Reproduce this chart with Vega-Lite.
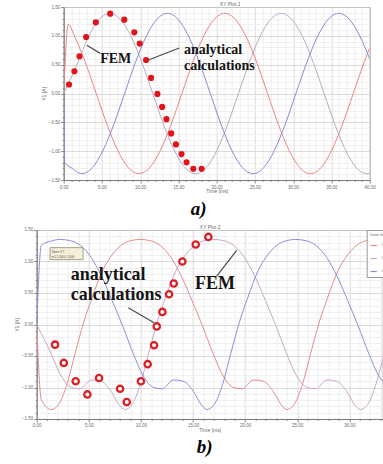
{
"$schema": "https://vega.github.io/schema/vega-lite/v6.json",
"background": "white",
"padding": {"left": 13.7, "top": 0, "right": 0, "bottom": 0},
"config": {
  "font": "Liberation Sans",
  "concat": {"spacing": 0},
  "view": {"stroke": "#8c8c8c", "strokeWidth": 1},
  "axis": {"labelFontSize": 4.5, "labelColor": "#6a6a6a", "titleFontSize": 5, "titleFontWeight": "normal", "titleColor": "#6a6a6a", "domainColor": "#7a7a7a", "tickColor": "#8a8a8a", "labelOverlap": false, "labelFlush": false, "labelBound": false, "labelPadding": 1, "gridWidth": 0.8}
},
"datasets": {
  "topLines": [
    {"s":"A","t":0,"v":0},{"s":"A","t":0.6,"v":1.2},{"s":"A","t":1.45,"v":0.983},{"s":"A","t":2.85,"v":0.532},{"s":"A","t":4.25,"v":0},{"s":"A","t":5.65,"v":-0.532},{"s":"A","t":7.05,"v":-0.983},{"s":"A","t":8.45,"v":-1.284},{"s":"A","t":9.85,"v":-1.39},{"s":"A","t":11.25,"v":-1.284},{"s":"A","t":12.65,"v":-0.983},{"s":"A","t":14.05,"v":-0.532},{"s":"A","t":15.45,"v":0},{"s":"A","t":16.85,"v":0.532},{"s":"A","t":18.25,"v":0.983},{"s":"A","t":19.65,"v":1.284},{"s":"A","t":21.05,"v":1.39},{"s":"A","t":22.45,"v":1.284},{"s":"A","t":23.85,"v":0.983},{"s":"A","t":25.25,"v":0.532},{"s":"A","t":26.65,"v":0},{"s":"A","t":28.05,"v":-0.532},{"s":"A","t":29.45,"v":-0.983},{"s":"A","t":30.85,"v":-1.284},{"s":"A","t":32.25,"v":-1.39},{"s":"A","t":33.65,"v":-1.284},{"s":"A","t":35.05,"v":-0.983},{"s":"A","t":36.45,"v":-0.532},{"s":"A","t":37.85,"v":0},{"s":"A","t":39.25,"v":0.532},{"s":"A","t":40,"v":0.79},
    {"s":"B","t":0,"v":0},{"s":"B","t":1.84,"v":0.532},{"s":"B","t":3.24,"v":0.983},{"s":"B","t":4.64,"v":1.284},{"s":"B","t":6.04,"v":1.39},{"s":"B","t":7.44,"v":1.284},{"s":"B","t":8.84,"v":0.983},{"s":"B","t":10.24,"v":0.532},{"s":"B","t":11.64,"v":0},{"s":"B","t":13.04,"v":-0.532},{"s":"B","t":14.44,"v":-0.983},{"s":"B","t":15.84,"v":-1.284},{"s":"B","t":17.24,"v":-1.39},{"s":"B","t":18.64,"v":-1.284},{"s":"B","t":20.04,"v":-0.983},{"s":"B","t":21.44,"v":-0.532},{"s":"B","t":22.84,"v":0},{"s":"B","t":24.24,"v":0.532},{"s":"B","t":25.64,"v":0.983},{"s":"B","t":27.04,"v":1.284},{"s":"B","t":28.44,"v":1.39},{"s":"B","t":29.84,"v":1.284},{"s":"B","t":31.24,"v":0.983},{"s":"B","t":32.64,"v":0.532},{"s":"B","t":34.04,"v":0},{"s":"B","t":35.44,"v":-0.532},{"s":"B","t":36.84,"v":-0.983},{"s":"B","t":38.24,"v":-1.284},{"s":"B","t":39.64,"v":-1.39},{"s":"B","t":40,"v":-1.385},
    {"s":"C","t":0,"v":0},{"s":"C","t":0.15,"v":-1.2},{"s":"C","t":0.96,"v":-1.284},{"s":"C","t":2.36,"v":-1.39},{"s":"C","t":3.76,"v":-1.284},{"s":"C","t":5.16,"v":-0.983},{"s":"C","t":6.56,"v":-0.532},{"s":"C","t":7.96,"v":0},{"s":"C","t":9.36,"v":0.532},{"s":"C","t":10.76,"v":0.983},{"s":"C","t":12.16,"v":1.284},{"s":"C","t":13.56,"v":1.39},{"s":"C","t":14.96,"v":1.284},{"s":"C","t":16.36,"v":0.983},{"s":"C","t":17.76,"v":0.532},{"s":"C","t":19.16,"v":0},{"s":"C","t":20.56,"v":-0.532},{"s":"C","t":21.96,"v":-0.983},{"s":"C","t":23.36,"v":-1.284},{"s":"C","t":24.76,"v":-1.39},{"s":"C","t":26.16,"v":-1.284},{"s":"C","t":27.56,"v":-0.983},{"s":"C","t":28.96,"v":-0.532},{"s":"C","t":30.36,"v":0},{"s":"C","t":31.76,"v":0.532},{"s":"C","t":33.16,"v":0.983},{"s":"C","t":34.56,"v":1.284},{"s":"C","t":35.96,"v":1.39},{"s":"C","t":37.36,"v":1.284},{"s":"C","t":38.76,"v":0.983},{"s":"C","t":40,"v":0.6}
  ],
  "topDots": [
    {"t":0.70,"v":0.156},{"t":1.40,"v":0.386},{"t":2.06,"v":0.646},{"t":2.93,"v":0.98},{"t":4.20,"v":1.234},{"t":6.08,"v":1.385},{"t":7.92,"v":1.281},{"t":9.23,"v":1.061},{"t":9.94,"v":0.865},{"t":10.77,"v":0.581},{"t":11.42,"v":0.27},{"t":12.25,"v":-0.007},{"t":12.87,"v":-0.232},{"t":13.43,"v":-0.445},{"t":14.05,"v":-0.692},{"t":14.67,"v":-0.883},{"t":15.40,"v":-1.05},{"t":16.06,"v":-1.194},{"t":16.94,"v":-1.305},{"t":18.03,"v":-1.305}
  ],
  "topPointers": [
    {"t":3.02,"v":0.836,"t2":4.73,"v2":0.70},
    {"t":10.99,"v":0.576,"t2":15.11,"v2":0.789}
  ],
  "topNotes": [
    {"t":4.77,"v":0.524,"label":"FEM"},
    {"t":15.72,"v":0.692,"label":"analytical"},
    {"t":15.72,"v":0.415,"label":"calculations"}
  ],
  "botLines": [
    {"s":"Current(PhaseA)","t":0,"v":0},{"s":"Current(PhaseA)","t":0.45,"v":-1.2},{"s":"Current(PhaseA)","t":1.4,"v":-1.35},{"s":"Current(PhaseA)","t":2.1,"v":-1.27},{"s":"Current(PhaseA)","t":2.9,"v":-0.95},{"s":"Current(PhaseA)","t":3.7,"v":-0.45},{"s":"Current(PhaseA)","t":4.5,"v":0.03},{"s":"Current(PhaseA)","t":5.3,"v":0.42},{"s":"Current(PhaseA)","t":6.3,"v":0.85},{"s":"Current(PhaseA)","t":7.3,"v":1.12},{"s":"Current(PhaseA)","t":8.3,"v":1.28},{"s":"Current(PhaseA)","t":9.3,"v":1.34},{"s":"Current(PhaseA)","t":9.9,"v":1.35},{"s":"Current(PhaseA)","t":10.9,"v":1.33},{"s":"Current(PhaseA)","t":11.9,"v":1.25},{"s":"Current(PhaseA)","t":12.9,"v":1.06},{"s":"Current(PhaseA)","t":13.9,"v":0.76},{"s":"Current(PhaseA)","t":14.9,"v":0.38},{"s":"Current(PhaseA)","t":15.9,"v":-0.02},{"s":"Current(PhaseA)","t":16.9,"v":-0.45},{"s":"Current(PhaseA)","t":17.9,"v":-0.82},{"s":"Current(PhaseA)","t":18.9,"v":-1.0},{"s":"Current(PhaseA)","t":19.7,"v":-1.02},{"s":"Current(PhaseA)","t":20.8,"v":-0.88},{"s":"Current(PhaseA)","t":21.7,"v":-0.9},{"s":"Current(PhaseA)","t":22.7,"v":-1.06},{"s":"Current(PhaseA)","t":23.4,"v":-1.26},{"s":"Current(PhaseA)","t":24.0,"v":-1.35},{"s":"Current(PhaseA)","t":24.7,"v":-1.27},{"s":"Current(PhaseA)","t":25.5,"v":-0.95},{"s":"Current(PhaseA)","t":26.3,"v":-0.45},{"s":"Current(PhaseA)","t":27.1,"v":0.03},{"s":"Current(PhaseA)","t":27.9,"v":0.42},{"s":"Current(PhaseA)","t":28.9,"v":0.85},{"s":"Current(PhaseA)","t":29.9,"v":1.12},{"s":"Current(PhaseA)","t":30.9,"v":1.28},{"s":"Current(PhaseA)","t":31.9,"v":1.34},{"s":"Current(PhaseA)","t":32.5,"v":1.35},{"s":"Current(PhaseA)","t":33.5,"v":1.33},
    {"s":"Current(PhaseB)","t":0,"v":0},{"s":"Current(PhaseB)","t":1.35,"v":-0.45},{"s":"Current(PhaseB)","t":2.35,"v":-0.82},{"s":"Current(PhaseB)","t":3.35,"v":-1.0},{"s":"Current(PhaseB)","t":4.15,"v":-1.02},{"s":"Current(PhaseB)","t":5.25,"v":-0.88},{"s":"Current(PhaseB)","t":6.15,"v":-0.9},{"s":"Current(PhaseB)","t":7.15,"v":-1.06},{"s":"Current(PhaseB)","t":7.85,"v":-1.26},{"s":"Current(PhaseB)","t":8.45,"v":-1.35},{"s":"Current(PhaseB)","t":9.15,"v":-1.27},{"s":"Current(PhaseB)","t":9.95,"v":-0.95},{"s":"Current(PhaseB)","t":10.75,"v":-0.45},{"s":"Current(PhaseB)","t":11.55,"v":0.03},{"s":"Current(PhaseB)","t":12.35,"v":0.42},{"s":"Current(PhaseB)","t":13.35,"v":0.85},{"s":"Current(PhaseB)","t":14.35,"v":1.12},{"s":"Current(PhaseB)","t":15.35,"v":1.28},{"s":"Current(PhaseB)","t":16.35,"v":1.34},{"s":"Current(PhaseB)","t":16.95,"v":1.35},{"s":"Current(PhaseB)","t":17.95,"v":1.33},{"s":"Current(PhaseB)","t":18.95,"v":1.25},{"s":"Current(PhaseB)","t":19.95,"v":1.06},{"s":"Current(PhaseB)","t":20.95,"v":0.76},{"s":"Current(PhaseB)","t":21.95,"v":0.38},{"s":"Current(PhaseB)","t":22.95,"v":-0.02},{"s":"Current(PhaseB)","t":23.95,"v":-0.45},{"s":"Current(PhaseB)","t":24.95,"v":-0.82},{"s":"Current(PhaseB)","t":25.95,"v":-1.0},{"s":"Current(PhaseB)","t":26.75,"v":-1.02},{"s":"Current(PhaseB)","t":27.85,"v":-0.88},{"s":"Current(PhaseB)","t":28.75,"v":-0.9},{"s":"Current(PhaseB)","t":29.75,"v":-1.06},{"s":"Current(PhaseB)","t":30.45,"v":-1.26},{"s":"Current(PhaseB)","t":31.05,"v":-1.35},{"s":"Current(PhaseB)","t":31.75,"v":-1.27},{"s":"Current(PhaseB)","t":32.55,"v":-0.95},{"s":"Current(PhaseB)","t":33.35,"v":-0.45},
    {"s":"Current(PhaseC)","t":0,"v":0},{"s":"Current(PhaseC)","t":0.45,"v":1.26},{"s":"Current(PhaseC)","t":1.3,"v":1.32},{"s":"Current(PhaseC)","t":2.24,"v":1.35},{"s":"Current(PhaseC)","t":3.24,"v":1.33},{"s":"Current(PhaseC)","t":4.24,"v":1.25},{"s":"Current(PhaseC)","t":5.24,"v":1.06},{"s":"Current(PhaseC)","t":6.24,"v":0.76},{"s":"Current(PhaseC)","t":7.24,"v":0.38},{"s":"Current(PhaseC)","t":8.24,"v":-0.02},{"s":"Current(PhaseC)","t":9.24,"v":-0.45},{"s":"Current(PhaseC)","t":10.24,"v":-0.82},{"s":"Current(PhaseC)","t":11.24,"v":-1.0},{"s":"Current(PhaseC)","t":12.04,"v":-1.02},{"s":"Current(PhaseC)","t":13.14,"v":-0.88},{"s":"Current(PhaseC)","t":14.04,"v":-0.9},{"s":"Current(PhaseC)","t":15.04,"v":-1.06},{"s":"Current(PhaseC)","t":15.74,"v":-1.26},{"s":"Current(PhaseC)","t":16.34,"v":-1.35},{"s":"Current(PhaseC)","t":17.04,"v":-1.27},{"s":"Current(PhaseC)","t":17.84,"v":-0.95},{"s":"Current(PhaseC)","t":18.64,"v":-0.45},{"s":"Current(PhaseC)","t":19.44,"v":0.03},{"s":"Current(PhaseC)","t":20.24,"v":0.42},{"s":"Current(PhaseC)","t":21.24,"v":0.85},{"s":"Current(PhaseC)","t":22.24,"v":1.12},{"s":"Current(PhaseC)","t":23.24,"v":1.28},{"s":"Current(PhaseC)","t":24.24,"v":1.34},{"s":"Current(PhaseC)","t":24.84,"v":1.35},{"s":"Current(PhaseC)","t":25.84,"v":1.33},{"s":"Current(PhaseC)","t":26.84,"v":1.25},{"s":"Current(PhaseC)","t":27.84,"v":1.06},{"s":"Current(PhaseC)","t":28.84,"v":0.76},{"s":"Current(PhaseC)","t":29.84,"v":0.38},{"s":"Current(PhaseC)","t":30.84,"v":-0.02},{"s":"Current(PhaseC)","t":31.84,"v":-0.45},{"s":"Current(PhaseC)","t":32.84,"v":-0.82},{"s":"Current(PhaseC)","t":33.84,"v":-1.0}
  ],
  "botDots": [
    {"t":1.76,"v":-0.32},{"t":2.6,"v":-0.61},{"t":3.74,"v":-0.9},{"t":4.86,"v":-1.11},{"t":5.98,"v":-0.85},{"t":8.0,"v":-1.02},{"t":8.64,"v":-1.23},{"t":10.0,"v":-0.9},{"t":10.65,"v":-0.63},{"t":11.26,"v":-0.33},{"t":11.52,"v":-0.03},{"t":12.06,"v":0.2},{"t":12.7,"v":0.48},{"t":13.15,"v":0.65},{"t":13.98,"v":1.0},{"t":15.26,"v":1.27},{"t":16.47,"v":1.39}
  ],
  "botPointers": [
    {"t":8.79,"v":0.265,"t2":11.26,"v2":0.027},
    {"t":17.27,"v":0.767,"t2":19.19,"v2":1.175}
  ],
  "botNotes": [
    {"t":3.26,"v":0.714,"label":"analytical"},
    {"t":3.26,"v":0.386,"label":"calculations"},
    {"t":15.19,"v":0.556,"label":"FEM"}
  ],
  "marker": [{"t":1.28,"t2":4.45,"v":1.22,"v2":1.03}],
  "markerText": [
    {"t":1.45,"v":1.15,"label":"Name     X        Y"},
    {"t":1.45,"v":1.07,"label":"m1   2.2400   1.3500"}
  ]
},
"resolve": {"scale": {"color": "independent"}},
"spacing": 4,
"vconcat": [
  {
    "spacing": 0,
    "hconcat": [
      {"width": 2, "height": 1, "data": {"values": [{"k": 1}]}, "mark": {"type": "point", "opacity": 0}, "view": {"stroke": null}},
      {
        "width": 306,
        "height": 173,
        "title": {"text": "a)", "orient": "bottom", "frame": "group", "anchor": "middle", "dx": -18, "offset": 6, "font": "Liberation Serif", "fontSize": 19, "fontWeight": "bold", "fontStyle": "italic", "color": "#000000"},
        "resolve": {"axis": {"x": "independent", "y": "independent"}},
        "layer": [
          {
            "data": {"name": "topLines"},
            "mark": {"type": "line", "interpolate": "monotone", "strokeWidth": 1, "clip": true},
            "encoding": {
              "x": {"field": "t", "type": "quantitative", "scale": {"domain": [0, 40], "nice": false, "zero": false},
                "axis": {"values": [0,1,2,3,4,5,6,7,8,9,10,11,12,13,14,15,16,17,18,19,20,21,22,23,24,25,26,27,28,29,30,31,32,33,34,35,36,37,38,39,40],
                  "labelExpr": "datum.value % 5 === 0 ? format(datum.value, '.2f') : ''",
                  "title": "Time [ms]", "titlePadding": 0, "grid": true,
                  "tickSize": {"condition": {"test": "datum.value % 5 === 0", "value": 3}, "value": 1.5},
                  "gridColor": {"condition": {"test": "datum.value % 5 === 0", "value": "#d2d2d2"}, "value": "#ececec"}}},
              "y": {"field": "v", "type": "quantitative", "scale": {"domain": [-1.5, 1.5], "nice": false},
                "axis": {"values": [-1.5,-1.4,-1.3,-1.2,-1.1,-1.0,-0.9,-0.8,-0.7,-0.6,-0.5,-0.4,-0.3,-0.2,-0.1,0,0.1,0.2,0.3,0.4,0.5,0.6,0.7,0.8,0.9,1.0,1.1,1.2,1.3,1.4,1.5],
                  "labelExpr": "abs(round(datum.value*10)) % 5 === 0 ? format(datum.value, '.2f') : ''",
                  "labelOverlap": false,
                  "title": "Y1 [A]", "titlePadding": 2, "grid": true,
                  "tickSize": {"condition": {"test": "abs(round(datum.value*10)) % 5 === 0", "value": 3}, "value": 1.5},
                  "gridColor": {"condition": {"test": "abs(round(datum.value*10)) % 5 === 0", "value": "#d2d2d2"}, "value": "#ececec"}}},
              "color": {"field": "s", "type": "nominal", "scale": {"domain": ["A", "B", "C"], "range": ["#ec8383", "#b8a9c6", "#8789d8"]}, "legend": null}
            }
          },
          {
            "data": {"name": "topDots"},
            "mark": {"type": "circle", "size": 38, "color": "#e3121b", "opacity": 1},
            "encoding": {
              "x": {"field": "t", "type": "quantitative", "axis": {"orient": "top", "title": "XY Plot 1", "labels": false, "ticks": false, "domain": false, "grid": false, "titlePadding": 1, "titleX": 166}},
              "y": {"field": "v", "type": "quantitative", "axis": null}
            }
          },
          {
            "data": {"name": "topPointers"},
            "mark": {"type": "rule", "color": "#4a4a4a", "strokeWidth": 1.2},
            "encoding": {
              "x": {"field": "t", "type": "quantitative", "axis": null},
              "y": {"field": "v", "type": "quantitative", "axis": null},
              "x2": {"field": "t2"},
              "y2": {"field": "v2"}
            }
          },
          {
            "data": {"name": "topNotes"},
            "mark": {"type": "text", "align": "left", "baseline": "alphabetic", "font": "Liberation Serif", "fontSize": 14, "fontWeight": "bold", "color": "#141414"},
            "encoding": {
              "x": {"field": "t", "type": "quantitative", "axis": null},
              "y": {"field": "v", "type": "quantitative", "axis": null},
              "text": {"field": "label"}
            }
          }
        ]
      }
    ]
  },
  {
    "width": 346,
    "height": 189,
    "title": {"text": "b)", "orient": "bottom", "frame": "group", "anchor": "middle", "dx": -5, "offset": 6, "font": "Liberation Serif", "fontSize": 19, "fontWeight": "bold", "fontStyle": "italic", "color": "#000000"},
    "resolve": {"axis": {"x": "independent", "y": "independent"}},
    "layer": [
      {
        "data": {"name": "botLines"},
        "mark": {"type": "line", "interpolate": "monotone", "strokeWidth": 1, "clip": true},
        "encoding": {
          "x": {"field": "t", "type": "quantitative", "scale": {"domain": [0, 33.2], "nice": false, "zero": false},
            "axis": {"values": [0,1,2,3,4,5,6,7,8,9,10,11,12,13,14,15,16,17,18,19,20,21,22,23,24,25,26,27,28,29,30,31,32,33],
              "labelExpr": "datum.value % 5 === 0 ? format(datum.value, '.2f') : ''",
              "title": "Time [ms]", "titlePadding": 0, "grid": true,
              "tickSize": {"condition": {"test": "datum.value % 5 === 0", "value": 3}, "value": 1.5},
              "gridColor": {"condition": {"test": "datum.value % 5 === 0", "value": "#d2d2d2"}, "value": "#ececec"}}},
          "y": {"field": "v", "type": "quantitative", "scale": {"domain": [-1.5, 1.5], "nice": false},
            "axis": {"values": [-1.5,-1.4,-1.3,-1.2,-1.1,-1.0,-0.9,-0.8,-0.7,-0.6,-0.5,-0.4,-0.3,-0.2,-0.1,0,0.1,0.2,0.3,0.4,0.5,0.6,0.7,0.8,0.9,1.0,1.1,1.2,1.3,1.4,1.5],
              "labelExpr": "abs(round(datum.value*10)) % 5 === 0 ? format(datum.value, '.2f') : ''",
              "labelOverlap": false,
              "title": "Y1 [A]", "titlePadding": 2, "grid": true,
              "tickSize": {"condition": {"test": "abs(round(datum.value*10)) % 5 === 0", "value": 3}, "value": 1.5},
              "gridColor": {"condition": {"test": "abs(round(datum.value*10)) % 5 === 0", "value": "#d2d2d2"}, "value": "#ececec"}}},
          "color": {"field": "s", "type": "nominal", "scale": {"domain": ["Current(PhaseA)", "Current(PhaseB)", "Current(PhaseC)"], "range": ["#e88a8a", "#c9a6c6", "#8c8edb"]},
            "legend": {"orient": "right", "offset": -16, "title": "Curve Info", "titleFontSize": 3.5, "titleFontWeight": "normal", "titleColor": "#555555", "labelFontSize": 3.3, "labelColor": "#555555", "symbolType": "stroke", "symbolSize": 40, "symbolStrokeWidth": 1.2, "strokeColor": "#9a9a9a", "fillColor": "white", "padding": 3, "rowPadding": 6}}
        }
      },
      {
        "data": {"name": "marker"},
        "mark": {"type": "rect", "fill": "#f3efd6", "stroke": "#8a8a70", "strokeWidth": 0.8},
        "encoding": {
          "x": {"field": "t", "type": "quantitative", "axis": null},
          "x2": {"field": "t2"},
          "y": {"field": "v", "type": "quantitative", "axis": null},
          "y2": {"field": "v2"}
        }
      },
      {
        "data": {"name": "markerText"},
        "mark": {"type": "text", "align": "left", "baseline": "middle", "fontSize": 2.8, "color": "#555555"},
        "encoding": {
          "x": {"field": "t", "type": "quantitative", "axis": null},
          "y": {"field": "v", "type": "quantitative", "axis": null},
          "text": {"field": "label"}
        }
      },
      {
        "data": {"name": "botDots"},
        "mark": {"type": "point", "shape": "circle", "filled": true, "fill": "white", "stroke": "#dc1f26", "strokeWidth": 2.3, "size": 40, "opacity": 1},
        "encoding": {
          "x": {"field": "t", "type": "quantitative", "axis": {"orient": "top", "title": "XY Plot 2", "labels": false, "ticks": false, "domain": false, "grid": false, "titlePadding": 1}},
          "y": {"field": "v", "type": "quantitative", "axis": null}
        }
      },
      {
        "data": {"name": "botPointers"},
        "mark": {"type": "rule", "color": "#4a4a4a", "strokeWidth": 1.2},
        "encoding": {
          "x": {"field": "t", "type": "quantitative", "axis": null},
          "y": {"field": "v", "type": "quantitative", "axis": null},
          "x2": {"field": "t2"},
          "y2": {"field": "v2"}
        }
      },
      {
        "data": {"name": "botNotes"},
        "mark": {"type": "text", "align": "left", "baseline": "alphabetic", "font": "Liberation Serif", "fontSize": 18, "fontWeight": "bold", "color": "#141414"},
        "encoding": {
          "x": {"field": "t", "type": "quantitative", "axis": null},
          "y": {"field": "v", "type": "quantitative", "axis": null},
          "text": {"field": "label"}
        }
      }
    ]
  }
]
}
